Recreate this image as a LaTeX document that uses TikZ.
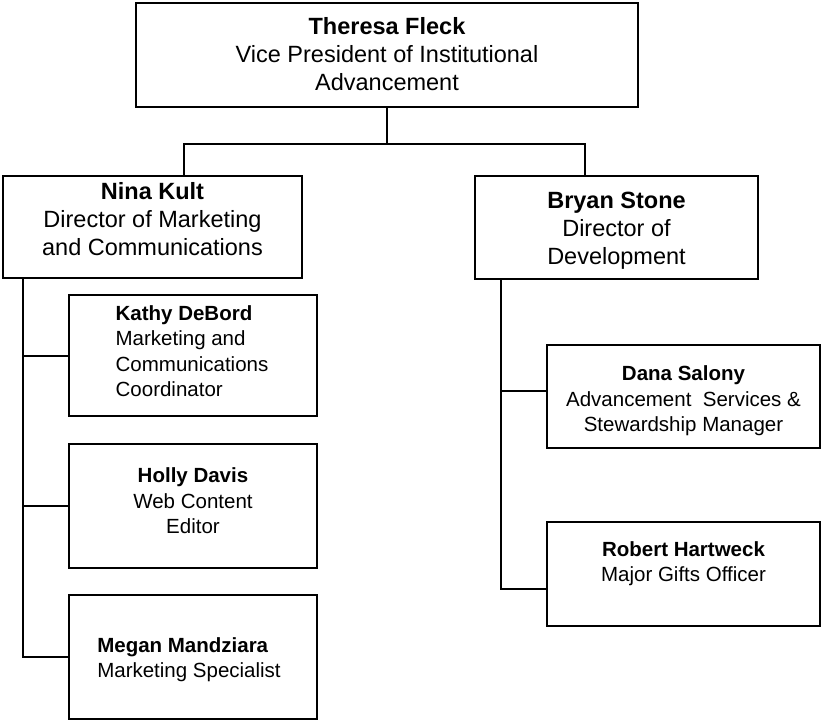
\documentclass[tikz,border=0pt]{standalone}
\usepackage{fontspec}
\setmainfont{Liberation Sans}
\begin{document}
\begin{tikzpicture}[x=1pt,y=-1pt,
  box/.style={draw=black, line width=1.8pt, rectangle, inner sep=0pt},
  txt/.style={inner sep=0pt, align=center},
  topfont/.style={font=\fontsize{23.5}{28}\selectfont},
  subfont/.style={font=\fontsize{20.5}{25.5}\selectfont},
  conn/.style={line width=1.4pt, line cap=rect}]
\useasboundingbox (0,0) rectangle (822,722);
% boxes
\node[box, minimum width=502pt, minimum height=104pt] (vp) at (387,55) {};
\node[box, minimum width=299pt, minimum height=102pt] (nina) at (152.5,227) {};
\node[box, minimum width=283pt, minimum height=103pt] (bryan) at (616.5,227.5) {};
\node[box, minimum width=248pt, minimum height=121pt] (kathy) at (193,355.5) {};
\node[box, minimum width=248pt, minimum height=124pt] (holly) at (193,506) {};
\node[box, minimum width=248pt, minimum height=124pt] (megan) at (193,657) {};
\node[box, minimum width=273pt, minimum height=103pt] (dana) at (683.5,396.5) {};
\node[box, minimum width=273pt, minimum height=104pt] (robert) at (683.5,574) {};
% texts
\node[txt, topfont] (vpT) at ([yshift=1pt]vp.center)
  {\textbf{Theresa Fleck}\\Vice President of Institutional\\Advancement};
\node[txt, topfont] (ninaT) at ([yshift=8pt]nina.center)
  {\textbf{Nina Kult}\\Director of Marketing\\and Communications};
\node[txt, topfont] (bryanT) at ([yshift=-3pt]bryan.center)
  {\textbf{Bryan Stone}\\Director of\\Development};
\node[txt, subfont, align=left] (kathyT) at ([xshift=-1pt,yshift=4.5pt]kathy.center)
  {\textbf{Kathy DeBord}\\Marketing and\\Communications\\Coordinator};
\node[txt, subfont] (hollyT) at ([yshift=5pt]holly.center)
  {\textbf{Holly Davis}\\Web Content\\Editor};
\node[txt, subfont, align=left] (meganT) at ([xshift=-4pt,yshift=-2.5pt]megan.center)
  {\textbf{Megan Mandziara}\\Marketing Specialist};
\node[txt, subfont] (danaT) at ([yshift=-4.5pt]dana.center)
  {\textbf{Dana Salony}\\Advancement\ \ Services \&\\Stewardship Manager};
\node[txt, subfont] (robertT) at ([yshift=10.5pt]robert.center)
  {\textbf{Robert Hartweck}\\Major Gifts Officer};
% connectors
\coordinate (busL) at (184,144);
\coordinate (busR) at (585,144);
\coordinate (spL) at (23,0);
\coordinate (spR) at (501,0);
\coordinate (kathyC) at ([yshift=-0.5pt]kathy.west);
\coordinate (danaC) at ([yshift=5.5pt]dana.west);
\coordinate (robC) at ([yshift=-15pt]robert.west);
\draw[conn] (vp.south) -- (vp.south |- busL);
\draw[conn] (nina.north -| busL) -- (busL) -- (busR) -- (bryan.north -| busR);
\draw[conn] (nina.south -| spL) -- (megan.west -| spL) -- (megan.west);
\draw[conn] (kathyC -| spL) -- (kathyC);
\draw[conn] (holly.west -| spL) -- (holly.west);
\draw[conn] (bryan.south -| spR) -- (robC -| spR) -- (robC);
\draw[conn] (danaC -| spR) -- (danaC);
\end{tikzpicture}
\end{document}
